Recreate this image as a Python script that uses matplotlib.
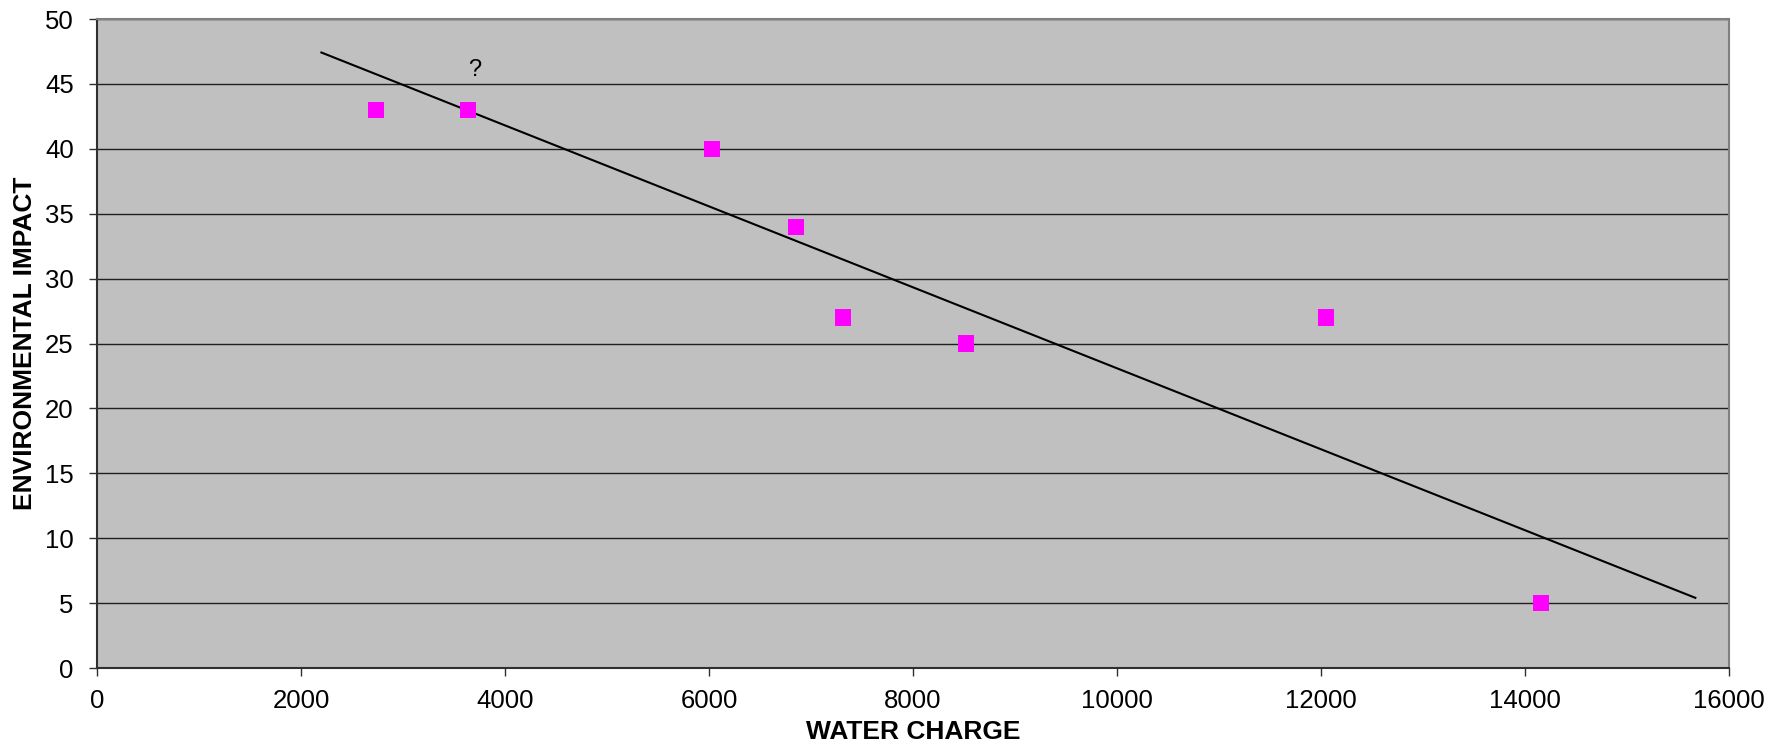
import matplotlib
matplotlib.use("Agg")
import matplotlib.pyplot as plt
import numpy as np

plt.rcParams['font.family'] = ['Liberation Sans', 'DejaVu Sans']

water_charge = [2735, 3634, 6032, 6853, 7311, 8523, 12052, 14160]
env_impact = [43, 43, 40, 34, 27, 25, 27, 5]
trend_range = [2200, 15670]
trend_slope = -0.003119
trend_intercept = 54.28
note_text = "?"
note_xy = (3706, 46.05)
x_ticks = [0, 2000, 4000, 6000, 8000, 10000, 12000, 14000, 16000]
y_ticks = [0, 5, 10, 15, 20, 25, 30, 35, 40, 45, 50]

W, H = 1782, 749
fig = plt.figure(figsize=(W / 100, H / 100), dpi=100)
ax = fig.add_axes([97 / W, 1 - 668 / H, (1729 - 97) / W, (668 - 19) / H])
ax.set_facecolor('#C0C0C0')

ax.set_xlim(0, 16000)
ax.set_ylim(0, 50)
ax.set_xticks(x_ticks)
ax.set_yticks(y_ticks)
ax.yaxis.grid(True, color='#202020', linewidth=1.0)
ax.set_axisbelow(True)

# trendline
tx = np.array(trend_range, dtype=float)
ax.plot(tx, trend_slope * tx + trend_intercept, color='black', linewidth=1.5, zorder=2)

ax.scatter(water_charge, env_impact, marker='s', s=135, color='#FF00FF',
           edgecolors='none', zorder=3)

ax.text(note_xy[0], note_xy[1], note_text, fontsize=17, ha='center', va='center')

for s in ['top', 'right']:
    ax.spines[s].set_color('#808080')
    ax.spines[s].set_linewidth(1.5)
for s in ['left', 'bottom']:
    ax.spines[s].set_color('#303030')
    ax.spines[s].set_linewidth(1.5)

ax.tick_params(axis='both', direction='out', length=5.8, width=1, labelsize=18.5,
               color='#303030')
ax.tick_params(axis='x', pad=9)
ax.tick_params(axis='y', pad=11)

ax.set_xlabel('WATER CHARGE', fontsize=19, fontweight='bold')
ax.set_ylabel('ENVIRONMENTAL IMPACT', fontsize=19, fontweight='bold')
ax.xaxis.label.set_va('center')
ax.yaxis.label.set_va('center')
ax.xaxis.set_label_coords((97 + 1729) / 2 / W, 1 - 732 / H, transform=fig.transFigure)
ax.yaxis.set_label_coords(25 / W, 1 - (19 + 668) / 2 / H, transform=fig.transFigure)

fig.savefig('out.png', dpi=100)
